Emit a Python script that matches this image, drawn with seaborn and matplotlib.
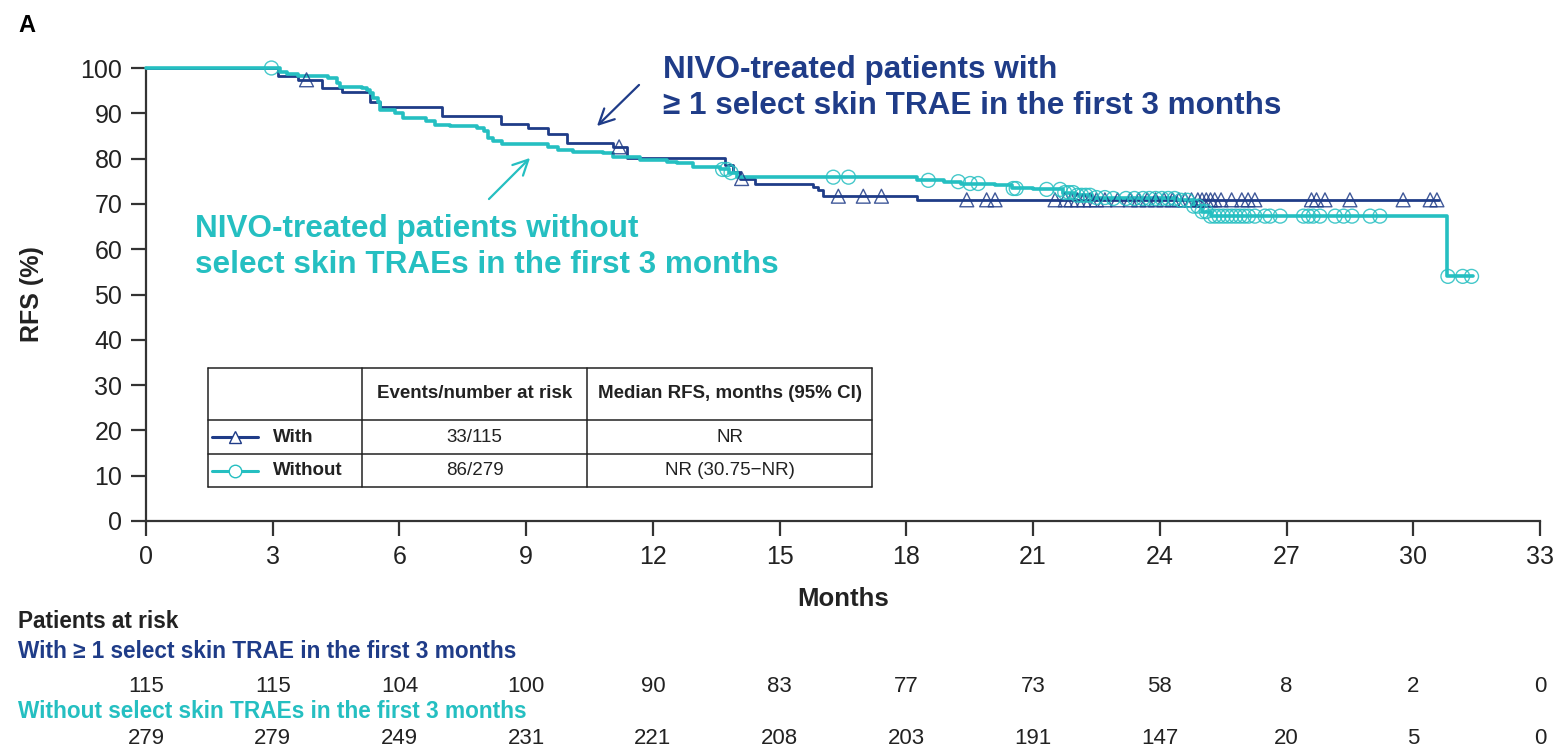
import numpy as np
import pandas as pd
import seaborn as sns
import matplotlib.pyplot as plt
from matplotlib.transforms import blended_transform_factory

# Kaplan-Meier steps (months, RFS %)
with_t = [0, 3.13, 3.6, 4.16, 4.63, 5.30, 5.54, 7.0, 8.40, 9.05, 9.52, 9.96, 11.06,
          11.38, 13.71, 13.9, 14.05, 14.42, 15.80, 15.92, 16.03, 18.24, 30.6]
with_s = [100, 98.3, 97.4, 95.5, 94.6, 92.5, 91.3, 89.4, 87.6, 86.8, 85.4, 83.4, 82.6,
          80.2, 78.5, 77.0, 75.6, 74.5, 73.8, 73.1, 71.7, 70.9, 70.9]
with_cens = [3.80, 11.2, 14.1, 16.39, 16.98, 17.41, 19.43, 19.90, 20.10, 21.52, 21.76,
             21.9, 22.05, 22.2, 22.35, 22.5, 22.7, 23.0, 23.3, 23.5, 23.7, 23.9, 24.1,
             24.3, 24.45, 24.6, 24.75, 24.9, 25.0, 25.1, 25.2, 25.3, 25.45, 25.70, 25.94,
             26.09, 26.25, 27.59, 27.71, 27.91, 28.50, 29.76, 30.40, 30.56]

without_t = [0, 3.17, 3.33, 3.6, 4.32, 4.51, 4.59, 4.83, 5.11, 5.22, 5.30, 5.38, 5.50,
             5.54, 5.89, 6.09, 6.64, 6.84, 7.20, 7.83, 7.99, 8.10, 8.22, 8.42, 9.52,
             9.76, 10.12, 10.83, 11.06, 11.70, 12.33, 12.56, 12.96, 13.59, 13.8, 14.0,
             18.24, 18.9, 19.3, 20.1, 20.5, 21.0, 21.7, 22.0, 22.4, 22.8, 24.4, 24.8,
             25.0, 25.2, 30.79, 31.42]
without_s = [100, 99.2, 98.6, 98.3, 97.7, 96.6, 95.9, 95.7, 95.5, 95.1, 94.4, 93.3, 92.6,
             90.7, 90.0, 88.9, 88.2, 87.4, 87.1, 86.7, 86.0, 84.5, 83.9, 83.2, 82.6,
             81.9, 81.5, 81.2, 80.4, 79.7, 79.3, 79.0, 78.2, 77.6, 76.9, 75.9,
             75.2, 74.9, 74.5, 74.2, 73.4, 73.2, 72.5, 71.9, 71.4, 71.2, 70.8, 69.5,
             68.3, 67.3, 54.0, 54.0]
without_cens = [2.97, 13.65, 13.75, 13.85, 16.27, 16.63, 18.52, 19.23, 19.51, 19.70,
                20.53, 20.6, 21.32, 21.64, 21.75, 21.85, 21.95, 22.05, 22.15, 22.25,
                22.35, 22.5, 22.7, 22.9, 23.2, 23.4, 23.6, 23.75, 23.9, 24.05, 24.2,
                24.35, 24.5, 24.65, 24.8, 24.9, 25.0, 25.1, 25.2, 25.3, 25.4, 25.5, 25.6,
                25.7, 25.8, 25.9, 26.0, 26.1, 26.25, 26.49, 26.61, 26.85, 27.40, 27.52,
                27.63, 27.79, 28.15, 28.35, 28.55, 28.98, 29.21, 30.82, 31.17, 31.38]

risk_months = [0, 3, 6, 9, 12, 15, 18, 21, 24, 27, 30, 33]
risk_with = [115, 115, 104, 100, 90, 83, 77, 73, 58, 8, 2, 0]
risk_without = [279, 279, 249, 231, 221, 208, 203, 191, 147, 20, 5, 0]

NAVY = "#1f3c88"
TEAL = "#25bfc1"
INK = "#222222"


def step_value(times, surv, x):
    idx = np.searchsorted(times, x, side="right") - 1
    return np.asarray(surv)[idx]


sns.set_theme(style="ticks")
plt.rcParams["font.family"] = ["Liberation Sans", "DejaVu Sans"]

W, H = 1560, 748
fig = plt.figure(figsize=(W / 100, H / 100), dpi=100)


def fx(px):
    return px / W


def fy(py):
    return 1 - py / H


ax = fig.add_axes([fx(146), fy(521), fx(1540) - fx(146), fy(68) - fy(521)])

curves = [
    ("With", with_t, with_s, with_cens, NAVY, "^", 2.0, 100),
    ("Without", without_t, without_s, without_cens, TEAL, "o", 2.6, 100),
]
for name, t, s, cens, col, mk, lw, ms in curves:
    df = pd.DataFrame({"month": t, "rfs": s})
    sns.lineplot(data=df, x="month", y="rfs", ax=ax, color=col, lw=lw,
                 drawstyle="steps-post", estimator=None, sort=False,
                 clip_on=False, zorder=3)
    cdf = pd.DataFrame({"month": cens, "rfs": step_value(t, s, np.array(cens))})
    sns.scatterplot(data=cdf, x="month", y="rfs", ax=ax, marker=mk, s=ms,
                    facecolor="none", edgecolor=col, linewidth=1.0,
                    alpha=0.85, zorder=4, clip_on=False)

ax.set_xlim(0, 33)
ax.set_ylim(0, 100)
ax.set_xticks(risk_months)
ax.set_yticks(range(0, 101, 10))
ax.tick_params(length=11, width=1.6, color="#333333", labelsize=18,
               labelcolor=INK, pad=6)
for side in ["left", "bottom"]:
    ax.spines[side].set_linewidth(1.6)
    ax.spines[side].set_color("#333333")
sns.despine(ax=ax)
ax.set_xlabel("Months", fontsize=18.5, fontweight="bold", color=INK, labelpad=13)
ax.set_ylabel("RFS (%)", fontsize=18, fontweight="bold", color=INK, labelpad=26)

# curve annotations
fig.text(fx(663), fy(55), "NIVO-treated patients with\n≥ 1 select skin TRAE in the first 3 months",
         color=NAVY, fontsize=22.7, fontweight="bold", va="top", ha="left",
         linespacing=1.25)
fig.text(fx(195), fy(214), "NIVO-treated patients without\nselect skin TRAEs in the first 3 months",
         color=TEAL, fontsize=22.7, fontweight="bold", va="top", ha="left",
         linespacing=1.25)
ax.annotate("", xy=(fx(595), fy(128)), xytext=(fx(641), fy(83)),
            xycoords="figure fraction", textcoords="figure fraction",
            arrowprops=dict(arrowstyle="->,head_length=0.9,head_width=0.45",
                            color=NAVY, lw=1.6))
ax.annotate("", xy=(fx(532), fy(156)), xytext=(fx(487), fy(201)),
            xycoords="figure fraction", textcoords="figure fraction",
            arrowprops=dict(arrowstyle="->,head_length=0.9,head_width=0.45",
                            color=TEAL, lw=1.6))

# summary table
tab = fig.add_axes([fx(208), fy(487), fx(872) - fx(208), fy(368) - fy(487)])
tab.set_xlim(0, 664)
tab.set_ylim(119, 0)
tab.axis("off")
for xv in [0, 154, 379, 664]:
    tab.plot([xv, xv], [0, 119], color="#222222", lw=1.1, clip_on=False)
for yv in [0, 52, 86, 119]:
    tab.plot([0, 664], [yv, yv], color="#222222", lw=1.1, clip_on=False)
tab.text(266.5, 26, "Events/number at risk", ha="center", va="center",
         fontsize=13.5, fontweight="bold", color=INK)
tab.text(521.5, 26, "Median RFS, months (95% CI)", ha="center", va="center",
         fontsize=13.5, fontweight="bold", color=INK)
rows = [("With", "33/115", "NR", NAVY, "^", 69),
        ("Without", "86/279", "NR (30.75\u2212NR)", TEAL, "o", 102.5)]
for lab, ev, med, col, mk, yv in rows:
    tab.plot([4, 50], [yv, yv], color=col, lw=2.2)
    tab.plot([27], [yv], marker=mk, ms=9, mfc="white", mec=col, mew=1.0)
    tab.text(65, yv, lab, ha="left", va="center", fontsize=13.5,
             fontweight="bold", color=INK)
    tab.text(266.5, yv, ev, ha="center", va="center", fontsize=13.5, color=INK)
    tab.text(521.5, yv, med, ha="center", va="center", fontsize=13.5, color=INK)

# patients at risk
fig.text(fx(18), fy(621), "Patients at risk", fontsize=16.3, fontweight="bold",
         color=INK, va="center")
fig.text(fx(18), fy(651), "With ≥ 1 select skin TRAE in the first 3 months",
         fontsize=16.3, fontweight="bold", color=NAVY, va="center")
fig.text(fx(18), fy(711), "Without select skin TRAEs in the first 3 months",
         fontsize=16.3, fontweight="bold", color=TEAL, va="center")
trans = blended_transform_factory(ax.transData, fig.transFigure)
for m, a, b in zip(risk_months, risk_with, risk_without):
    ax.text(m, fy(686), str(a), transform=trans, ha="center", va="center",
            fontsize=16, color=INK, clip_on=False)
    ax.text(m, fy(739), str(b), transform=trans, ha="center", va="center",
            fontsize=16, color=INK, clip_on=False)

fig.text(fx(18), fy(25), "A", fontsize=17, fontweight="bold", color="black",
         va="center")

fig.savefig("out.png", dpi=100)
